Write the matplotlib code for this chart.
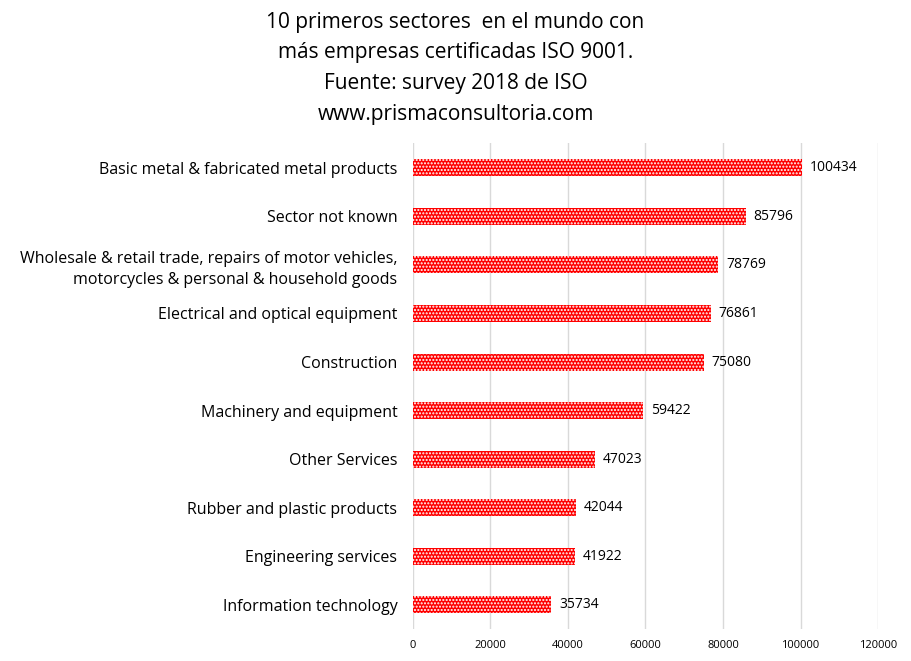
import matplotlib.pyplot as plt
import numpy as np

plt.rcParams['font.family'] = ['Open Sans', 'DejaVu Sans']
plt.rcParams['hatch.color'] = 'white'
plt.rcParams['hatch.linewidth'] = 1.0

sectors = [
    "Basic metal & fabricated metal products",
    "Sector not known",
    "Wholesale & retail trade, repairs of motor vehicles,\nmotorcycles & personal & household goods",
    "Electrical and optical equipment",
    "Construction",
    "Machinery and equipment",
    "Other Services",
    "Rubber and plastic products",
    "Engineering services",
    "Information technology",
]
counts = [100434, 85796, 78769, 76861, 75080, 59422, 47023, 42044, 41922, 35734]
xticks = [0, 20000, 40000, 60000, 80000, 100000, 120000]

fig = plt.figure(figsize=(9.11, 6.61), dpi=100)
ax = fig.add_axes([0.453, 0.048, 0.511, 0.735])

y = np.arange(len(sectors))
ax.barh(y, counts, height=0.35, color='#ff0000', edgecolor='white',
        hatch='.....', linewidth=0, zorder=3)
for yi, v in zip(y, counts):
    ax.text(v + 2000, yi, str(v), va='center', ha='left', fontsize=10, color='black')

ax.set_yticks(y)
ax.set_yticklabels(sectors, fontsize=11.5, color='black', linespacing=1.4)
ax.invert_yaxis()
ax.set_ylim(len(sectors) - 0.5, -0.5)
ax.set_xlim(0, 120000)
ax.set_xticks(xticks)
ax.set_xticklabels([str(t) for t in xticks], fontsize=8, color='black')
ax.tick_params(length=0)
ax.tick_params(axis='x', pad=8)
ax.tick_params(axis='y', pad=11)
ax.grid(axis='x', color='#d9d9d9', linewidth=1, zorder=0)
for s in ax.spines.values():
    s.set_visible(False)

fig.text(0.5, 0.982,
         "10 primeros sectores  en el mundo con\nmás empresas certificadas ISO 9001.\nFuente: survey 2018 de ISO\nwww.prismaconsultoria.com",
         ha='center', va='top', fontsize=15, linespacing=1.6, color='black')

fig.savefig('out.png', dpi=100)
